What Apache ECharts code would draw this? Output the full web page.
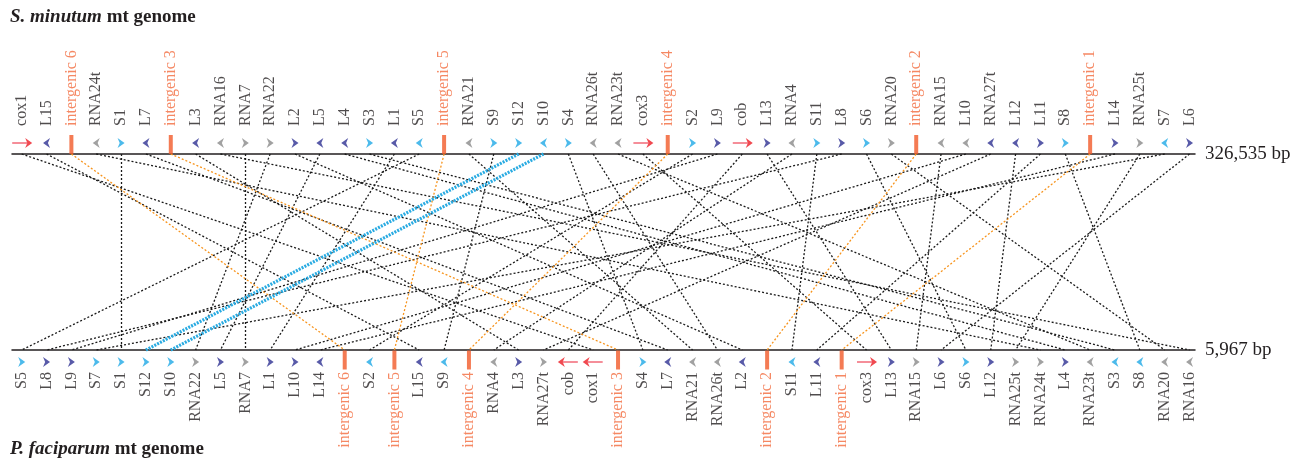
<!DOCTYPE html>
<html>
<head>
<meta charset="utf-8">
<script src="https://cdn.jsdelivr.net/npm/echarts@6/dist/echarts.min.js"></script>
<style>html,body{margin:0;padding:0;background:#fff}#c{width:1301px;height:467px}</style>
</head>
<body>
<div id="c"></div>
<script>
// ---- data ----
const topTitle = 'S. minutum';
const bottomTitle = 'P. faciparum';
const topLength = '326,535 bp';
const bottomLength = '5,967 bp';

const topGenes = ['cox1','L15','intergenic 6','RNA24t','S1','L7','intergenic 3','L3','RNA16','RNA7','RNA22','L2','L5','L4','S3','L1','S5','intergenic 5','RNA21','S9','S12','S10','S4','RNA26t','RNA23t','cox3','intergenic 4','S2','L9','cob','L13','RNA4','S11','L8','S6','RNA20','intergenic 2','RNA15','L10','RNA27t','L12','L11','S8','intergenic 1','L14','RNA25t','S7','L6'];
const topStrand = [1,-1,0,-1,1,-1,0,-1,-1,1,1,1,-1,-1,1,-1,-1,0,-1,1,1,-1,1,-1,-1,1,0,1,1,1,1,-1,1,1,1,1,0,-1,-1,-1,-1,1,1,0,1,1,-1,1];
// kind: P protein, I intergenic, L large rRNA, S small rRNA, R other RNA
const topKind = ['P','L','I','R','S','L','I','L','R','R','R','L','L','L','S','L','S','I','R','S','S','S','S','R','R','P','I','S','L','P','L','R','S','L','S','R','I','R','R','L','L','L','S','I','L','R','S','L'];

const bottomGenes = ['S5','L8','L9','S7','S1','S12','S10','RNA22','L5','RNA7','L1','L10','L14','intergenic 6','S2','intergenic 5','L15','S9','intergenic 4','RNA4','L3','RNA27t','cob','cox1','intergenic 3','S4','L7','RNA21','RNA26t','L2','intergenic 2','S11','L11','intergenic 1','cox3','L13','RNA15','L6','S6','L12','RNA25t','RNA24t','L4','RNA23t','S3','S8','RNA20','RNA16'];
const bottomStrand = [1,1,1,1,1,1,1,1,1,1,1,1,-1,0,-1,0,-1,-1,0,-1,1,1,-1,-1,0,1,-1,-1,-1,-1,0,-1,-1,0,1,1,1,1,1,1,1,1,1,-1,-1,-1,-1,-1];
const bottomKind = ['S','L','L','S','S','S','S','R','L','R','L','L','L','I','S','I','L','S','I','R','L','R','P','P','I','S','L','R','R','L','I','S','L','I','P','L','R','L','S','L','R','R','L','R','S','S','R','R'];

const highlighted = ['S12','S10'];

// ---- styles ----
const FONT = 'Liberation Serif';
const INK = '#231f20';
const ORANGE_TXT = '#f26a3c';
const kindColor = {L:'#2e3192', S:'#1fa9e6', R:'#8a8a8a'};
const ARROW = 'path://M0,0L10,5L0,10L3,5Z';

function markerSeries(kinds, strands, yv, dy) {
  const heads = [], bars = [], shafts = [], pheads = [];
  kinds.forEach((k, i) => {
    const s = strands[i];
    if (k === 'I') {
      bars.push({value:[i,yv], symbolOffset:[0, dy > 0 ? 10 : -9.5]});
    } else if (k === 'P') {
      shafts.push({value:[i,yv], symbolOffset:[-2*s, dy]});
      pheads.push({value:[i,yv], symbolOffset:[7*s, dy], symbolRotate: s > 0 ? 0 : 180});
    } else {
      heads.push({value:[i,yv], symbolOffset:[0, dy], symbolRotate: s > 0 ? 0 : 180,
        itemStyle:{color: kindColor[k]}});
    }
  });
  return [
    {type:'scatter', clip:false, silent:true, symbol:ARROW, symbolSize:[7,10], data:heads, z:5},
    {type:'scatter', clip:false, silent:true, symbol:'rect', symbolSize:[4,19], itemStyle:{color:'#f15a29'}, data:bars, z:5},
    {type:'scatter', clip:false, silent:true, symbol:'rect', symbolSize:[15,2], itemStyle:{color:'#f2727f'}, data:shafts, z:5},
    {type:'scatter', clip:false, silent:true, symbol:ARROW, symbolSize:[7,10], itemStyle:{color:'#ec1c24'}, data:pheads, z:6}
  ];
}

function labelSeries(genes, yv, isTop) {
  return {
    type:'scatter', clip:false, silent:true, symbolSize:0.1, itemStyle:{color:'transparent'},
    data: genes.map((g,i) => ({value:[i,yv], label:{color: g.startsWith('intergenic') ? ORANGE_TXT : INK}})),
    label:{show:true, formatter:(p)=>genes[p.dataIndex], rotate:90,
      position: isTop ? 'top' : 'bottom', distance: isTop ? 28 : 22,
      align: isTop ? 'left' : 'right', verticalAlign:'middle',
      fontFamily:FONT, fontSize:16},
    z:4
  };
}

const blackLinks = [], orangeLinks = [], cyanLinks = [];
topGenes.forEach((g, i) => {
  const j = bottomGenes.indexOf(g);
  const item = {coords:[[i,1],[j,0]]};
  if (g.startsWith('intergenic')) orangeLinks.push(item);
  else if (highlighted.includes(g)) cyanLinks.push(item);
  else blackLinks.push(item);
});

const axisCommon = {type:'value', min:-0.39, max:47.22, gridIndex:0,
  axisLine:{show:true, onZero:false, lineStyle:{color:INK, width:1.5}},
  axisTick:{show:false}, axisLabel:{show:false}, splitLine:{show:false},
  nameLocation:'end', nameGap:10,
  nameTextStyle:{fontFamily:FONT, fontSize:19, color:INK, verticalAlign:'middle', align:'left'}};

const titleRich = {
  i:{fontFamily:FONT, fontSize:19, fontWeight:'bold', fontStyle:'italic', color:INK},
  n:{fontFamily:FONT, fontSize:19, fontWeight:'bold', color:INK}
};

const option = {
  animation:false,
  title:[
    {text:'{i|' + topTitle + '}{n| mt genome}', left:10, top:8, padding:0, textStyle:{rich:titleRich}},
    {text:'{i|' + bottomTitle + '}{n| mt genome}', left:10, top:440, padding:0, textStyle:{rich:titleRich}}
  ],
  grid:{left:12, right:106, top:154, bottom:117, containLabel:false},
  xAxis:[
    Object.assign({}, axisCommon, {position:'bottom', name:bottomLength}),
    Object.assign({}, axisCommon, {position:'top', name:topLength})
  ],
  yAxis:{type:'value', min:0, max:1, show:false},
  series:[
    {type:'lines', coordinateSystem:'cartesian2d', silent:true, clip:false, data:blackLinks,
      lineStyle:{color:'#1a1a1a', width:1.3, type:[2,2], opacity:1}, z:2},
    {type:'lines', coordinateSystem:'cartesian2d', silent:true, clip:false, data:orangeLinks,
      lineStyle:{color:'#f7941d', width:1.3, type:[2,2], opacity:1}, z:2},
    {type:'lines', coordinateSystem:'cartesian2d', silent:true, clip:false, data:cyanLinks,
      lineStyle:{color:'#29abe2', width:3.2, type:[2,1.2], opacity:1}, z:3},
    ...markerSeries(topKind, topStrand, 1, -11),
    ...markerSeries(bottomKind, bottomStrand, 0, 12),
    labelSeries(topGenes, 1, true),
    labelSeries(bottomGenes, 0, false)
  ]
};

const chart = echarts.init(document.getElementById('c'), null, {renderer:'canvas'});
chart.setOption(option);
</script>
</body>
</html>
